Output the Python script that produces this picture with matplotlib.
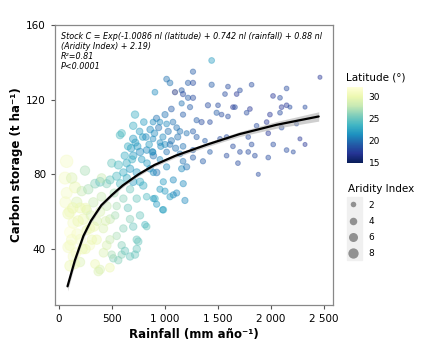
import matplotlib
matplotlib.use("Agg")
import matplotlib.pyplot as plt
from matplotlib.lines import Line2D
from matplotlib.colors import Normalize
from matplotlib.patches import Rectangle
import numpy as np

# points: rainfall (mm), carbon (t/ha), latitude (deg), aridity index
rainfall = [
    72, 57, 151, 72, 104, 88, 167, 135, 104, 88, 104, 135, 104, 198, 151, 214, 276, 340, 387,
    261, 324, 229, 292, 292, 355, 387, 418, 450, 450, 481, 387, 340, 371, 200, 250, 180, 300,
    120, 245, 402, 250, 330, 420, 170,
    60, 120, 160, 220, 260, 310, 360, 400, 440, 480, 130, 200,
    450, 481, 544, 607, 670, 733, 764, 497, 638, 700, 764, 827, 890, 858, 921, 795, 827, 905,
    984, 733, 670, 607, 544, 764, 827, 670, 607, 733, 591, 670, 591, 512, 733, 544, 497, 559,
    622, 717, 748, 811, 575, 700, 591, 717, 800, 700, 790, 520, 580, 640, 700, 620, 680, 560,
    530, 480, 650, 700,
    650, 720, 760, 820, 860, 900, 940, 980, 1030, 850, 960, 1060, 1120, 780, 880, 1000, 1100,
    920, 1000, 1060, 740, 830, 690,
    890, 984, 1078, 1172, 952, 1000, 1078, 1047, 1110, 1188, 890, 921, 978, 1157, 1204, 1015,
    1440, 1264, 1015, 1047, 905, 1094, 1157, 1170, 1217, 1264, 1440, 1594, 1566, 1676, 1707,
    1217, 1264, 1157, 1236, 1405, 1500, 1487, 1534, 1594, 1641, 1660, 1298, 1345, 1424, 1170,
    1075, 887, 952, 1015, 1110, 1141, 1204, 1264, 1298, 1377, 1519, 1581, 1641, 1707, 887, 952,
    1047, 1170, 1264, 1424, 1581, 887, 1015, 1141, 1264, 1358, 1170, 952, 1688,
    2462, 1817, 2147, 2019, 2085, 2100, 2147, 2179, 2321, 1990, 2085, 1801, 1770, 1959, 2100,
    2241, 1864, 1974, 1785, 1817, 2021, 2273, 2321, 2147, 2210, 1785, 1848, 1974, 1880,
]
carbon = [
    87, 78, 73, 70, 60, 59, 65, 54, 49, 41, 42, 36, 31, 33, 32, 71, 72, 75, 76,
    61, 65, 56, 51, 42, 45, 60, 51, 42, 63, 56, 29, 32, 28, 45, 40, 55, 58,
    78, 82, 78, 62, 52, 38, 48,
    65, 45, 38, 40, 50, 45, 55, 68, 55, 30, 62, 62,
    75, 77, 79, 81, 83, 81, 76, 86, 86, 90, 92, 93, 90, 83, 81, 74, 68, 67,
    61, 67, 72, 67, 63, 58, 52, 56, 51, 45, 42, 36, 37, 35, 40, 47, 37, 34,
    39, 37, 44, 53, 101, 106, 102, 112, 108, 99, 100, 70, 75, 78, 76, 90, 94, 85,
    58, 45, 62, 52,
    95, 97, 103, 100, 104, 102, 105, 100, 103, 96, 95, 98, 100, 88, 92, 96, 94,
    110, 112, 115, 95, 86, 88,
    81, 76, 77, 75, 72, 71, 69, 68, 70, 66, 67, 64, 61, 83, 84, 84,
    141, 135, 131, 129, 124, 124, 125, 123, 129, 129, 128, 127, 123, 123, 125,
    121, 121, 118, 116, 117, 117, 113, 112, 111, 116, 116, 109, 108, 108, 112,
    108, 108, 108, 107, 105, 103, 102, 103, 100, 98, 99, 100, 95, 92, 99, 97,
    96, 95, 93, 92, 90, 92, 92, 91, 89, 87, 87, 88, 86,
    132, 128, 126, 122, 121, 116, 117, 116, 116, 112, 113, 115, 113, 108, 105,
    107, 106, 102, 100, 96, 96, 99, 96, 93, 92, 92, 90, 89, 80,
]
latitude = [
    31, 31, 30, 31, 31, 30, 29, 31, 32, 31, 31, 31, 30, 29, 30, 28, 27, 26, 25,
    29, 28, 30, 30, 31, 30, 29, 29, 29, 28, 28, 29, 30, 29, 31, 30, 30, 29,
    29, 27, 28, 30, 30, 29, 31,
    31, 31, 31, 30, 30, 30, 29, 28, 29, 30, 30, 30,
    26, 25, 24, 23, 22, 22, 23, 25, 23, 22, 21, 21, 20, 21, 20, 23, 24, 23,
    23, 25, 25, 26, 27, 25, 25, 26, 26, 25, 26, 25, 26, 26, 25, 27, 27, 26,
    25, 25, 25, 24, 24, 23, 24, 23, 22, 22, 22, 27, 24, 23, 22, 23, 22, 24,
    27, 28, 25, 25,
    23, 22, 22, 21, 21, 21, 20, 21, 20, 22, 21, 20, 20, 22, 21, 21, 20,
    20, 20, 19, 22, 22, 23,
    21, 22, 21, 21, 22, 22, 21, 22, 21, 21, 22, 22, 22, 21, 20, 21,
    22, 19, 20, 20, 21, 16, 19, 18, 19, 18, 19, 18, 18, 17, 18,
    19, 18, 20, 19, 18, 18, 19, 18, 18, 17, 18, 19, 18, 18, 19,
    20, 21, 21, 21, 20, 20, 20, 19, 19, 19, 18, 18, 18, 18, 21, 21,
    20, 20, 19, 19, 18, 21, 20, 20, 19, 19, 20, 21, 18,
    17, 18, 18, 17, 18, 17, 17, 18, 18, 17, 18, 17, 18, 17, 18,
    18, 18, 17, 18, 18, 18, 17, 17, 18, 18, 18, 18, 18, 18,
]
aridity = [
    14, 13, 11, 11, 11, 11, 10, 11, 11, 11, 10, 10, 10, 8, 8, 8, 8, 7, 7,
    8, 8, 10, 8, 8, 8, 8, 7, 7, 7, 7, 7, 7, 7, 10, 8, 10, 8,
    10, 8, 7, 8, 8, 7, 10,
    11, 10, 9, 9, 8, 8, 7, 7, 7, 7, 10, 9,
    6, 6, 6, 5, 5, 5, 5, 6, 5, 5, 5, 4, 4, 4, 4, 5, 4, 4,
    4, 5, 5, 5, 5, 5, 4, 5, 5, 5, 5, 5, 5, 5, 5, 5, 5, 5,
    5, 5, 5, 4, 5, 5, 5, 5, 4, 5, 4, 6, 6, 5, 5, 5, 5, 6,
    5, 6, 5, 5,
    4.5, 4.5, 4, 4, 4, 4, 3.5, 3.5, 3.5, 4, 3.5, 3.5, 3.5, 4, 4, 3.5, 3.5,
    3.5, 3.5, 3, 4.5, 4, 4.5,
    3.5, 3.5, 3.5, 3.5, 3.5, 3.5, 3.5, 3.5, 3.5, 3.5, 3.5, 3.5, 3.5, 3.5, 3.5, 3.5,
    3, 2.5, 3, 3, 3, 2.5, 2.5, 2.5, 2.5, 2.5, 2.5, 2, 2, 2, 2,
    2.5, 2.5, 2.5, 2.5, 2.5, 2, 2.5, 2, 2, 2, 2, 2.5, 2.5, 2, 2.5,
    3, 3, 3, 3, 3, 3, 2.5, 2.5, 2.5, 2, 2, 2, 2, 2, 3, 3,
    3, 3, 2.5, 2, 2, 3, 3, 3, 2.5, 2.5, 3, 3, 2,
    1.5, 2, 2, 2, 2, 2, 2, 1.5, 1.5, 2, 2, 2, 2, 2, 2,
    1.5, 2, 2, 2, 2, 2, 1.5, 1.5, 2, 1.5, 2, 2, 2, 1.5,
]

# fitted curve and its confidence half-width
fit_rain = [80, 150, 230, 300, 400, 500, 600, 750, 900, 1100, 1400, 1700, 2050, 2450]
fit_carbon = [20, 34, 47, 55, 63.5, 69, 74, 80, 85, 90, 96, 101.5, 106.5, 111]
fit_ci = [2.5, 2, 1.5, 1.2, 1, 0.9, 0.9, 0.9, 0.9, 1, 1.1, 1.3, 1.8, 2.5]

legend_ai = [2, 4, 6, 8]
anno = ("Stock C = Exp(-1.0086 nl (latitude) + 0.742 nl (rainfall) + 0.88 nl\n"
        "(Aridity Index) + 2.19)\nR\u00b2=0.81\nP<0.0001")


def size_of(ai):
    return 5.8 * np.asarray(ai, dtype=float)


fig = plt.figure(figsize=(4.35, 3.52), dpi=100)
ax = fig.add_axes([55 / 435, 1 - 305 / 352, 278 / 435, 280 / 352])

cmap = plt.get_cmap("YlGnBu_r")
norm = Normalize(vmin=14.8, vmax=32.2)

ax.scatter(rainfall, carbon, s=size_of(aridity), c=latitude, cmap=cmap, norm=norm,
           alpha=0.42, edgecolors=cmap(norm(np.array(latitude))), linewidths=0.7)

lo = np.array(fit_carbon) - np.array(fit_ci)
hi = np.array(fit_carbon) + np.array(fit_ci)
ax.fill_between(fit_rain, lo, hi, color="#b0b0b0", alpha=0.6, lw=0)
ax.plot(fit_rain, fit_carbon, color="black", lw=1.6, solid_capstyle="round")

ax.set_xlim(-38, 2585)
ax.set_ylim(10, 160)
ax.set_xticks([0, 500, 1000, 1500, 2000, 2500])
ax.set_xticklabels(["0", "500", "1 000", "1 500", "2 000", "2 500"])
ax.set_yticks([40, 80, 120, 160])
ax.tick_params(labelsize=7.5, colors="#555555", labelcolor="black", length=3, width=0.8)
for s in ax.spines.values():
    s.set_color("#888888")
    s.set_linewidth(0.9)

ax.set_xlabel("Rainfall (mm año\u207b\u00b9)", fontsize=8.5, fontweight="bold", labelpad=3)
ax.set_ylabel("Carbon storage (t ha\u207b\u00b9)", fontsize=8.5, fontweight="bold", labelpad=2)

ax.text(0.02, 0.975, anno, transform=ax.transAxes, ha="left", va="top",
        fontsize=5.8, style="italic", linespacing=1.15)

# colour bar legend
cax = fig.add_axes([347 / 435, 1 - 163 / 352, 16 / 435, 76 / 352])
cb = fig.colorbar(plt.cm.ScalarMappable(norm=norm, cmap=cmap), cax=cax)
cb.set_ticks([15, 20, 25, 30])
cb.outline.set_visible(False)
cb.ax.tick_params(labelsize=6.5, length=0, pad=4)
fig.text(346 / 435, 1 - 77 / 352, "Latitude (\u00b0)", fontsize=7.5, ha="left", va="center")

# aridity index size legend
fig.patches.append(Rectangle((347 / 435, 1 - 260 / 352), 15 / 435, 63 / 352,
                             transform=fig.transFigure, color="#f0f0f0", zorder=0))
handles = [Line2D([], [], ls="", marker="o", color="#808080", alpha=0.85,
                  markersize=float(np.sqrt(size_of(a))) + 0.6, markeredgewidth=0)
           for a in legend_ai]
leg = fig.legend(handles, [str(a) for a in legend_ai], title="Aridity Index",
                 loc="upper left", bbox_to_anchor=(344 / 435, 1 - 180 / 352),
                 frameon=False, fontsize=6.5, title_fontsize=7.5, labelspacing=0.78,
                 handlelength=1.3, handletextpad=1.0, alignment="left", borderaxespad=0)

fig.savefig("out.png", dpi=100)
